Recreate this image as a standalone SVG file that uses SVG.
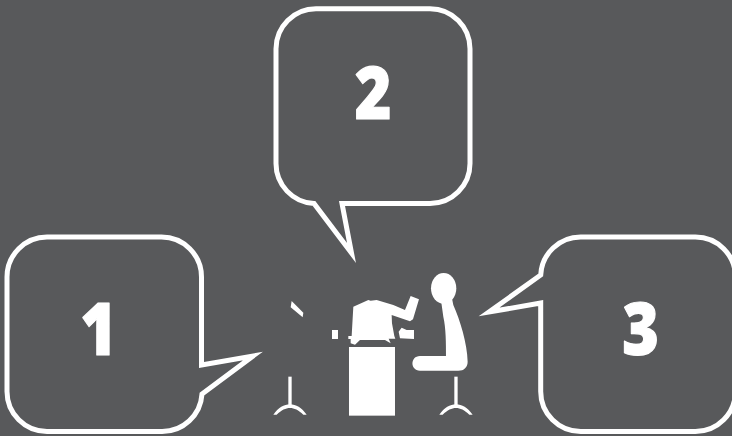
<svg xmlns="http://www.w3.org/2000/svg" width="732" height="436" viewBox="0 0 732 436">
<style>
.b{fill:none;stroke:#fff;stroke-width:5;stroke-miterlimit:14}
.n{font-family:"Open Sans","Liberation Sans",sans-serif;font-weight:800;font-size:72px;fill:#fff;stroke:#fff;stroke-width:1.2;stroke-linejoin:round;text-anchor:middle}
.f{fill:#fff}
.l{fill:none;stroke:#fff;stroke-width:10}
</style>
<defs>
<path id="base" class="f" d="M-50 464C-35 443 -18 433 0 433C18 433 35 443 50 464H40C25 450 13 444 0 444C-13 444 -25 450 -40 464Z"/>
</defs>
<rect width="732" height="436" fill="#58595b"/>
<g id="bubble-1">
<path class="b" d="M47 237H161.500A40 40 0 0 1 201.500 277V365L253 356L202 394A40 40 0 0 1 161.500 431.500H47A40 40 0 0 1 7 391.500V277A40 40 0 0 1 47 237Z"/>
<text class="n" transform="translate(98.500 355) scale(.87 1)">1</text>
</g>
<g id="bubble-2">
<path class="b" d="M316 8.700H430A40 40 0 0 1 470 48.700V163.500A40 40 0 0 1 430 203.500H342L351.500 253L314 203.500A40 40 0 0 1 276 163.500V48.700A40 40 0 0 1 316 8.700Z"/>
<text class="n" transform="translate(373 119) scale(.87 1)">2</text>
</g>
<g id="bubble-3">
<path class="b" d="M580.700 237H695.400A40 40 0 0 1 735.400 277V391.500A40 40 0 0 1 695.400 431.500H580.700A40 40 0 0 1 540.700 391.500V303L489 312L540.700 275A40 40 0 0 1 580.700 237Z"/>
<text class="n" transform="translate(640.500 355) scale(.87 1)">3</text>
</g>
<g id="scene" transform="translate(260 260) scale(.3333)">
<path class="f" d="M95 123L130 158L128 172L92 142Z"/>
<path class="l" d="M90 350V438"/>
<use href="#base" x="90"/>
<rect class="f" x="267" y="261" width="138" height="206"/>
<rect class="f" x="216" y="210" width="18" height="27"/>
<path class="f" d="M265 228H275L280 140L325 120L332 122L350 120L400 135L435 150L452 108L477 118L459 178L450 184L395 165L396 190L403 228L406 236H386L392 250L375 240H300L285 254L272 250L272 237H265Z"/>
<path class="f" d="M425 203L440 210H462V237L420 235L416 215Z"/>
<ellipse class="f" cx="551" cy="85" rx="38" ry="46"/>
<path class="f" d="M543 120H577L580 135C600 180 622 250 623 305C623 322 612 332 595 332H480C450 332 450 288 480 288H558C558 250 558 205 550 170Z"/>
<path class="l" d="M588 350V438"/>
<use href="#base" x="588"/>
</g>
</svg>
